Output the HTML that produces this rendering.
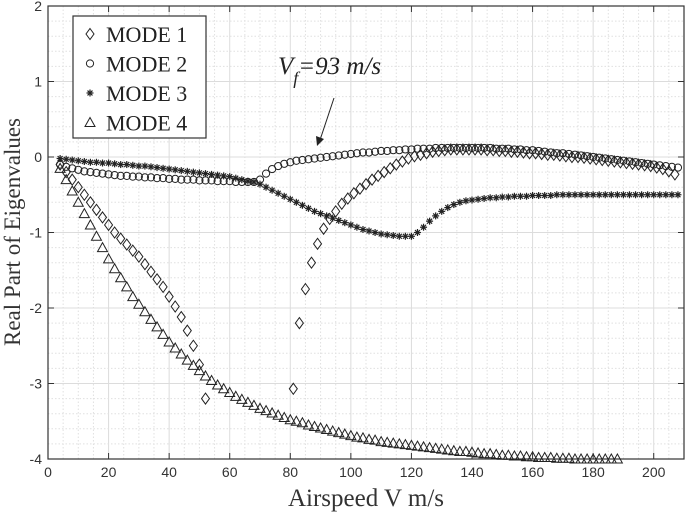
<!DOCTYPE html>
<html><head><meta charset="utf-8"><style>
html,body{margin:0;padding:0;background:#fff;}
svg{display:block;}
</style></head><body>
<svg id="chart" width="685" height="517" viewBox="0 0 685 517" xmlns="http://www.w3.org/2000/svg"></svg>
<script>
const xTicks=[0,20,40,60,80,100,120,140,160,180,200];
const yTicks=[2,1,0,-1,-2,-3,-4];
const mode1aStart=4, mode1bStart=81, mode2Start=4, mode3Start=4, mode4Start=4, step=2;
const mode1a=[-0.1,-0.2,-0.3,-0.4,-0.5,-0.6,-0.7,-0.8,-0.9,-1.0,-1.08,-1.16,-1.24,-1.32,-1.42,-1.52,-1.62,-1.72,-1.85,-1.98,-2.12,-2.3,-2.5,-2.75,-3.2];
const mode1b=[-3.07,-2.2,-1.75,-1.4,-1.15,-0.95,-0.82,-0.72,-0.62,-0.55,-0.48,-0.42,-0.36,-0.3,-0.25,-0.2,-0.15,-0.1,-0.06,-0.02,0.01,0.03,0.05,0.07,0.08,0.09,0.1,0.1,0.1,0.1,0.1,0.1,0.09,0.09,0.08,0.08,0.07,0.07,0.06,0.05,0.05,0.04,0.03,0.03,0.02,0.01,0.0,0.0,-0.01,-0.02,-0.03,-0.04,-0.05,-0.06,-0.07,-0.08,-0.09,-0.1,-0.11,-0.12,-0.14,-0.16,-0.19,-0.23];
const mode2=[-0.1,-0.13,-0.15,-0.17,-0.19,-0.2,-0.21,-0.22,-0.23,-0.24,-0.25,-0.25,-0.26,-0.26,-0.27,-0.27,-0.28,-0.28,-0.29,-0.29,-0.3,-0.3,-0.3,-0.31,-0.31,-0.31,-0.32,-0.32,-0.32,-0.33,-0.33,-0.33,-0.33,-0.3,-0.22,-0.16,-0.12,-0.09,-0.07,-0.05,-0.04,-0.03,-0.02,-0.01,0.0,0.01,0.02,0.03,0.04,0.05,0.06,0.06,0.07,0.08,0.08,0.09,0.09,0.1,0.1,0.11,0.11,0.11,0.12,0.12,0.12,0.12,0.12,0.12,0.12,0.12,0.12,0.12,0.11,0.11,0.11,0.1,0.1,0.09,0.09,0.08,0.07,0.06,0.05,0.05,0.04,0.03,0.02,0.01,0.0,-0.01,-0.02,-0.03,-0.04,-0.05,-0.06,-0.07,-0.08,-0.09,-0.1,-0.11,-0.12,-0.13,-0.14];
const mode3=[-0.02,-0.03,-0.04,-0.05,-0.06,-0.07,-0.07,-0.08,-0.08,-0.09,-0.1,-0.1,-0.11,-0.12,-0.12,-0.13,-0.14,-0.15,-0.16,-0.17,-0.18,-0.19,-0.2,-0.21,-0.22,-0.23,-0.24,-0.25,-0.26,-0.28,-0.3,-0.32,-0.33,-0.36,-0.4,-0.44,-0.48,-0.52,-0.56,-0.6,-0.64,-0.68,-0.72,-0.75,-0.78,-0.81,-0.84,-0.87,-0.9,-0.93,-0.96,-0.98,-1.0,-1.02,-1.03,-1.04,-1.05,-1.05,-1.05,-1.0,-0.93,-0.85,-0.78,-0.72,-0.67,-0.63,-0.6,-0.58,-0.57,-0.56,-0.55,-0.54,-0.54,-0.53,-0.53,-0.52,-0.52,-0.52,-0.51,-0.51,-0.51,-0.51,-0.5,-0.5,-0.5,-0.5,-0.5,-0.5,-0.5,-0.5,-0.5,-0.5,-0.5,-0.5,-0.5,-0.5,-0.5,-0.5,-0.5,-0.5,-0.5,-0.5,-0.5];
const mode4=[-0.15,-0.3,-0.45,-0.6,-0.75,-0.9,-1.05,-1.2,-1.35,-1.48,-1.6,-1.72,-1.85,-1.95,-2.05,-2.15,-2.25,-2.35,-2.45,-2.53,-2.61,-2.69,-2.76,-2.83,-2.9,-2.96,-3.02,-3.07,-3.12,-3.17,-3.21,-3.25,-3.29,-3.33,-3.36,-3.39,-3.42,-3.45,-3.48,-3.5,-3.52,-3.55,-3.57,-3.59,-3.61,-3.63,-3.65,-3.67,-3.69,-3.71,-3.72,-3.74,-3.75,-3.77,-3.78,-3.79,-3.8,-3.81,-3.82,-3.83,-3.84,-3.85,-3.86,-3.87,-3.88,-3.89,-3.9,-3.9,-3.91,-3.92,-3.93,-3.93,-3.94,-3.95,-3.95,-3.96,-3.96,-3.97,-3.97,-3.98,-3.98,-3.98,-3.99,-3.99,-3.99,-4.0,-4.0,-4.0,-4.0,-4.0,-4.0,-4.0,-4.0];

const L=48,R=684,T=6,B=459,XMAX=210;
const X=v=>L+v*(R-L)/XMAX, Y=v=>T+(2-v)*(B-T)/6;
const svg=document.getElementById('chart');
const NS='http://www.w3.org/2000/svg';
function mk(tag,attrs,parent){const e=document.createElementNS(NS,tag);for(const k in attrs)e.setAttribute(k,attrs[k]);(parent||svg).appendChild(e);return e;}

const grid=mk('g',{});


for(let v=5;v<XMAX;v+=5){const major=v%20===0;mk('line',{x1:X(v),x2:X(v),y1:T,y2:B,stroke:major?'#dcdcdc':'#e0e0e0','stroke-width':1,'stroke-dasharray':major?'':'1.5,2'},grid);}
for(let i=1;i<30;i++){const v=-4+i*0.2;const major=i%5===0;mk('line',{x1:L,x2:R,y1:Y(v),y2:Y(v),stroke:major?'#dcdcdc':'#e0e0e0','stroke-width':1,'stroke-dasharray':major?'':'1.5,2'},grid);}

const frame=mk('rect',{x:L,y:T,width:R-L,height:B-T,fill:'none',stroke:'#333','stroke-width':1.2});



xTicks.forEach(t=>{
  mk('line',{x1:X(t),x2:X(t),y1:B,y2:B-6,stroke:'#333'});
  mk('line',{x1:X(t),x2:X(t),y1:T,y2:T+6,stroke:'#333'});
  const tx=mk('text',{x:X(t),y:B+18,'text-anchor':'middle','font-family':'Liberation Sans, sans-serif','font-size':14,fill:'#333'});
  tx.textContent=t;
  
  
});
yTicks.forEach(t=>{
  mk('line',{x1:L,x2:L+6,y1:Y(t),y2:Y(t),stroke:'#333'});
  mk('line',{x1:R,x2:R-6,y1:Y(t),y2:Y(t),stroke:'#333'});
  const tx=mk('text',{x:L-6,y:Y(t)+5,'text-anchor':'end','font-family':'Liberation Sans, sans-serif','font-size':14,fill:'#333'});
  tx.textContent=t;
  
  
});

const xt=mk('text',{x:366,y:506,'text-anchor':'middle','font-family':'Liberation Serif, serif','font-size':25,fill:'#333'});
xt.textContent='Airspeed V m/s';


const yt=mk('text',{x:0,y:0,'text-anchor':'middle','font-family':'Liberation Serif, serif','font-size':23,fill:'#333',transform:'translate(20,232) rotate(-90)'});
yt.textContent='Real Part of Eigenvalues';



function marker(kind,cx,cy,g){
  const st={fill:'none',stroke:'#222','stroke-width':1};
  if(kind==='diamond')return mk('polygon',Object.assign({points:`${cx},${cy-5.5} ${cx+4},${cy} ${cx},${cy+5.5} ${cx-4},${cy}`},st),g);
  if(kind==='circle')return mk('circle',Object.assign({cx:cx,cy:cy,r:3.6},st),g);
  if(kind==='tri')return mk('polygon',Object.assign({points:`${cx},${cy-5} ${cx+5},${cy+4} ${cx-5},${cy+4}`},st),g);
  const g2=mk('g',{stroke:'#222','stroke-width':1.2},g);
  for(let a=0;a<4;a++){const an=a*Math.PI/4;mk('line',{x1:cx-3.5*Math.cos(an),y1:cy-3.5*Math.sin(an),x2:cx+3.5*Math.cos(an),y2:cy+3.5*Math.sin(an)},g2);}
  return g2;
}
function series(name,kind,start,vals){
  const g=mk('g',{});
  
  
  vals.forEach((v,i)=>{const m=marker(kind,X(start+i*step),Y(v),g);
    
    });
}
series('mode-4-series','tri',mode4Start,mode4);
series('mode-1-series','diamond',mode1aStart,mode1a);
series('mode-1-series-b','diamond',mode1bStart,mode1b);
series('mode-2-series','circle',mode2Start,mode2);
series('mode-3-series','star',mode3Start,mode3);

// annotation
const ann=mk('g',{});


const at=mk('text',{x:278,y:74,'font-family':'Liberation Serif, serif','font-size':25,'font-style':'italic',fill:'#222'},ann);
at.innerHTML='V<tspan font-size="18" dy="10">f</tspan><tspan dy="-10">=93 m/s</tspan>';
mk('line',{x1:334,y1:98,x2:320,y2:140,stroke:'#222','stroke-width':1},ann);
mk('polygon',{points:'317,146 316,136 324,139',fill:'#222'},ann);

// legend
const lg=mk('g',{});


mk('rect',{x:73,y:16,width:133,height:122,fill:'#fff',stroke:'#333','stroke-width':1.2},lg);
const kinds=['diamond','circle','star','tri'];
kinds.forEach((k,i)=>{
  const y=34+i*29.5;
  const e=mk('g',{},lg);
  
  
  marker(k,90,y,e);
  const t=mk('text',{x:106,y:y+8,'font-family':'Liberation Serif, serif','font-size':22,fill:'#222'},e);
  t.textContent='MODE '+(i+1);
});
</script>
</body></html>
